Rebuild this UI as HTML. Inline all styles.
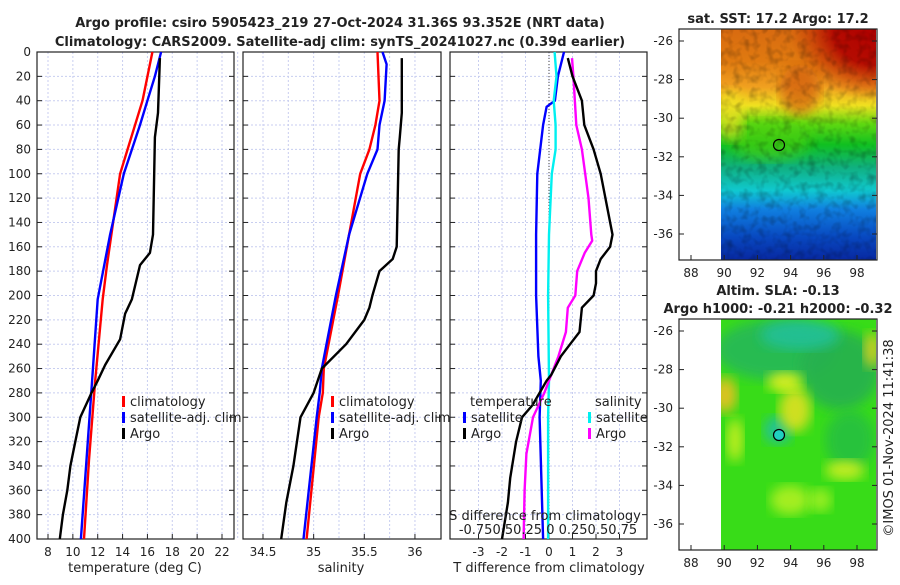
<!DOCTYPE html>
<html><head><meta charset="utf-8"><style>
body{margin:0;background:#fff;width:900px;height:580px;overflow:hidden}
svg{font-family:"DejaVu Sans","Liberation Sans",sans-serif}
</style></head><body>
<svg id="c" width="900" height="580" viewBox="0 0 900 580" xmlns="http://www.w3.org/2000/svg">
<defs>
<linearGradient id="sstg" x1="0" y1="0" x2="0" y2="1">
<stop offset="0" stop-color="#d86a10"/><stop offset="0.14" stop-color="#e07a10"/>
<stop offset="0.25" stop-color="#f0a020"/><stop offset="0.33" stop-color="#f0e020"/>
<stop offset="0.41" stop-color="#60d810"/><stop offset="0.5" stop-color="#10c020"/>
<stop offset="0.6" stop-color="#10b080"/><stop offset="0.7" stop-color="#10c8d0"/>
<stop offset="0.78" stop-color="#1080e0"/><stop offset="0.9" stop-color="#0848c0"/>
<stop offset="1" stop-color="#0828a0"/></linearGradient>
<radialGradient id="redc" cx="1" cy="0" r="0.9"><stop offset="0" stop-color="#b00000"/><stop offset="0.5" stop-color="#b00000" stop-opacity="0.9"/><stop offset="1" stop-color="#c03000" stop-opacity="0"/></radialGradient>
<filter id="bl"><feGaussianBlur stdDeviation="6"/></filter>
<filter id="tex" x="0" y="0" width="1" height="1"><feTurbulence type="fractalNoise" baseFrequency="0.12" numOctaves="2" seed="3"/><feColorMatrix type="matrix" values="0 0 0 0 0  0 0 0 0 0  0 0 0 0 0  0 0 0 -1.6 0.9"/></filter>
<clipPath id="cp1"><rect x="721" y="29" width="155" height="231"/></clipPath>
<clipPath id="cp2"><rect x="721" y="319" width="155" height="231"/></clipPath>
</defs>
<g id="g"></g>
</svg>
<script>
// ---- data (depth in m) ----
const tClimD=[0,40,100,175,203,270,335,400];
const tClimV=[16.4,15.6,13.8,12.75,12.4,11.8,11.3,10.9];
const tSatD=[0,20,40,60,100,150,203,270,335,400];
const tSatV=[17.1,16.6,16.0,15.4,14.1,13.0,12.0,11.55,11.1,10.65];
const tArgoD=[5,50,70,150,165,175,203,215,236,257,270,280,300,320,340,360,380,400];
const tArgoV=[17.0,16.85,16.6,16.45,16.2,15.4,14.75,14.2,13.8,12.6,12.0,11.5,10.6,10.2,9.8,9.55,9.2,8.95];
const sClimD=[0,40,60,80,100,150,200,260,280,300,400];
const sClimV=[35.63,35.65,35.61,35.55,35.46,35.35,35.24,35.1,35.09,35.05,34.93];
const sSatD=[0,10,40,60,80,100,150,200,260,280,300,400];
const sSatV=[35.68,35.72,35.7,35.65,35.63,35.53,35.35,35.22,35.08,35.06,35.03,34.9];
const sArgoD=[5,50,70,80,160,170,180,200,210,220,240,260,280,300,340,370,400];
const sArgoV=[35.87,35.87,35.85,35.84,35.82,35.78,35.65,35.58,35.55,35.5,35.32,35.08,35.0,34.87,34.8,34.73,34.68];
const dTSatD=[0,20,40,45,60,100,150,200,250,270,300,400];
const dTSatV=[0.64,0.38,0.25,-0.1,-0.25,-0.5,-0.55,-0.55,-0.45,-0.35,-0.4,-0.25];
const dSSatD=[0,20,40,60,80,100,150,200,270,300,400];
const dSSatV=[0.06,0.08,0.05,0.07,0.07,0.03,0.0,-0.01,0.0,-0.01,-0.01];
const dSArgoD=[5,20,60,80,120,150,155,165,180,200,210,230,250,270,280,300,330,360,400];
const dSArgoV=[0.245,0.26,0.29,0.35,0.42,0.45,0.46,0.38,0.3,0.28,0.2,0.18,0.1,0.0,-0.05,-0.17,-0.24,-0.26,-0.27];
const dTArgoD=[5,20,40,60,80,100,150,160,170,180,190,200,210,230,240,250,265,270,280,290,300,320,350,370,400];
const dTArgoV=[0.8,1.0,1.4,1.5,1.9,2.2,2.7,2.6,2.2,2.0,2.0,1.9,1.4,1.3,0.9,0.5,0.1,-0.1,-0.4,-0.7,-1.15,-1.4,-1.65,-1.75,-2.0];
const depthTicks=[0,20,40,60,80,100,120,140,160,180,200,220,240,260,280,300,320,340,360,380,400];
const tTicks=[8,10,12,14,16,18,20,22];
const sTicks=[34.5,35,35.5,36];
const dTicks=[-3,-2,-1,0,1,2,3];

const NS='http://www.w3.org/2000/svg';
const G=document.getElementById('g');
function el(tag,attrs,parent){const e=document.createElementNS(NS,tag);for(const k in attrs)e.setAttribute(k,attrs[k]);(parent||G).appendChild(e);return e;}
function txt(x,y,s,size,anchor,weight,parent){const t=el('text',{x:x,y:y,'font-size':size,'text-anchor':anchor||'middle','font-weight':weight||'normal',fill:'#222'},parent);t.textContent=s;return t;}
const Y0=52,Y1=539;
const yS=d=>Y0+(Y1-Y0)*d/400;
const xT=v=>48+(v-8)*(174/14);
const xS=v=>263+(v-34.5)*101.3;
const xD=v=>549+v*23.5;
const xDS=v=>549+v*4*23.5;

function panel(x0,x1,name,gridX){
  const g=el('g',{});
  
  
  gridX.forEach(x=>el('line',{x1:x,x2:x,y1:Y0,y2:Y1,stroke:'#c8cef0','stroke-width':1,'stroke-dasharray':'2,2'},g));
  depthTicks.forEach(d=>{el('line',{x1:x0,x2:x1,y1:yS(d),y2:yS(d),stroke:'#c8cef0','stroke-width':1,'stroke-dasharray':'2,2'},g);
    el('line',{x1:x0,x2:x0+5,y1:yS(d),y2:yS(d),stroke:'#222'},g);el('line',{x1:x1-5,x2:x1,y1:yS(d),y2:yS(d),stroke:'#222'},g);});
  el('rect',{x:x0,y:Y0,width:x1-x0,height:Y1-Y0,fill:'none',stroke:'#222','stroke-width':1.2},g);
  return g;
}
function line(D,V,xf,color,name){
  const p=el('polyline',{points:D.map((d,i)=>xf(V[i]).toFixed(1)+','+yS(d).toFixed(1)).join(' '),fill:'none',stroke:color,'stroke-width':2.4,'stroke-linejoin':'round'});
  
  
}
// panel 1
const tg=[];for(let v=8;v<=22;v+=2)tg.push(xT(v));
panel(37,234,'temperature-panel',tg);
depthTicks.forEach(d=>txt(31,yS(d)+4,String(d),12,'end'));
tTicks.forEach(v=>{el('line',{x1:xT(v),x2:xT(v),y1:Y1-5,y2:Y1,stroke:'#222'});txt(xT(v),556,String(v),12);});
txt(135,572,'temperature (deg C)',13);
line(tClimD,tClimV,xT,'#ff0000','temp-climatology-line');
line(tSatD,tSatV,xT,'#0000ff','temp-satellite-line');
line(tArgoD,tArgoV,xT,'#000','temp-argo-line');
// panel 2
const sg=[];for(let v=34.25;v<=36.2;v+=0.25)sg.push(xS(v));
panel(243,441,'salinity-panel',sg);
sTicks.forEach(v=>{el('line',{x1:xS(v),x2:xS(v),y1:Y1-5,y2:Y1,stroke:'#222'});txt(xS(v),556,String(v),12);});
txt(341,572,'salinity',13);
line(sClimD,sClimV,xS,'#ff0000','sal-climatology-line');
line(sSatD,sSatV,xS,'#0000ff','sal-satellite-line');
line(sArgoD,sArgoV,xS,'#000','sal-argo-line');
// panel 3
const dg=[];for(let v=-3;v<=3;v++)dg.push(xD(v));
panel(450,647,'difference-panel',dg);
el('line',{x1:xD(0),x2:xD(0),y1:Y0,y2:Y1,stroke:'#444','stroke-dasharray':'1,2'});
dTicks.forEach(v=>{el('line',{x1:xD(v),x2:xD(v),y1:Y1-5,y2:Y1,stroke:'#222'});txt(xD(v),556,String(v),12);});
txt(549,572,'T difference from climatology',13);
line(dTSatD,dTSatV,xD,'#0000ff','tdiff-satellite-line');
line(dSSatD,dSSatV,xDS,'#00f0f0','sdiff-satellite-line');
line(dSArgoD,dSArgoV,xDS,'#ff00ff','sdiff-argo-line');
line(dTArgoD,dTArgoV,xD,'#000','tdiff-argo-line');
txt(545,520,'S difference from climatology',13);
txt(548,534,'-0.750.50.25 0  0.250.50.75',13);
// legends
function leg(x,y,c,s,name){const g=el('g',{});
 el('rect',{x:x,y:y-10,width:3,height:11,fill:c},g);txt(x+8,y,s,13,'start','normal',g);}
leg(122,406,'#ff0000','climatology','legend-climatology');
leg(122,422,'#0000ff','satellite-adj. clim','legend-satellite-adj');
leg(122,438,'#000','Argo','legend-argo');
leg(331,406,'#ff0000','climatology','legend2-climatology');
leg(331,422,'#0000ff','satellite-adj. clim','legend2-satellite-adj');
leg(331,438,'#000','Argo','legend2-argo');
txt(470,406,'temperature',13,'start');txt(595,406,'salinity',13,'start');
leg(463,422,'#0000ff','satellite','legend3-t-satellite');
leg(463,438,'#000','Argo','legend3-t-argo');
leg(588,422,'#00f0f0','satellite','legend3-s-satellite');
leg(588,438,'#ff00ff','Argo','legend3-s-argo');
// titles
txt(340,27,'Argo profile: csiro 5905423_219 27-Oct-2024 31.36S 93.352E (NRT data)',13,'middle','bold');
txt(340,46,'Climatology: CARS2009. Satellite-adj clim: synTS_20241027.nc (0.39d earlier)',13,'middle','bold');
// maps
const lonTicks=[88,90,92,94,96,98];const latTicks=[-26,-28,-30,-32,-34,-36];
const xL=v=>691+(v-88)*16.6;
function mapAxes(y0,name){const g=el('g',{});
 el('rect',{x:679,y:y0,width:198,height:231,fill:'none',stroke:'#222','stroke-width':1.2},g);
 lonTicks.forEach(v=>{el('line',{x1:xL(v),x2:xL(v),y1:y0+226,y2:y0+231,stroke:'#222'},g);txt(xL(v),y0+248,String(v),12,'middle','normal',g);});
 latTicks.forEach(v=>{const y=y0+12+(-26-v)*19.3;el('line',{x1:679,x2:684,y1:y,y2:y,stroke:'#222'},g);el('line',{x1:872,x2:877,y1:y,y2:y,stroke:'#222'},g);txt(673,y+4,String(v),12,'end','normal',g);});
}
// top map
const m1=el('g',{'clip-path':'url(#cp1)'});
el('rect',{x:721,y:29,width:155,height:231,fill:'url(#sstg)'},m1);
el('rect',{x:780,y:29,width:96,height:80,fill:'url(#redc)'},m1);
el('ellipse',{cx:800,cy:90,rx:20,ry:25,fill:'#d05a10',opacity:0.7,filter:'url(#bl)'},m1);
el('ellipse',{cx:770,cy:140,rx:40,ry:20,fill:'#50d010',opacity:0.6,filter:'url(#bl)'},m1);
el('ellipse',{cx:730,cy:115,rx:14,ry:25,fill:'#f0e020',opacity:0.7,filter:'url(#bl)'},m1);
el('rect',{x:721,y:29,width:155,height:231,filter:'url(#tex)',opacity:0.35},m1);
mapAxes(29,'sst-map-axes');
el('circle',{cx:779,cy:145,r:5.5,fill:'none',stroke:'#000','stroke-width':1.2});
txt(778,23,'sat. SST: 17.2 Argo: 17.2',13,'middle','bold');
// bottom map
const m2=el('g',{'clip-path':'url(#cp2)'});
el('rect',{x:721,y:319,width:155,height:231,fill:'#38dc18'},m2);
[[775,350,60,30,'#28b858'],[840,370,40,40,'#28b050'],[800,335,40,15,'#20c098'],[778,430,14,14,'#20c0a0'],[850,440,25,30,'#28c040'],
 [725,395,12,18,'#f0c020'],[795,410,16,22,'#e0e020'],[785,382,18,10,'#e8f020'],[845,470,20,10,'#d0f020'],[872,350,8,18,'#e0d020'],
 [790,500,20,15,'#b0f020'],[735,440,8,22,'#d0f020'],[820,500,12,12,'#a0f020']].forEach(b=>el('ellipse',{cx:b[0],cy:b[1],rx:b[2],ry:b[3],fill:b[4],opacity:0.9,filter:'url(#bl)'},m2));
mapAxes(319,'sla-map-axes');
el('circle',{cx:779,cy:435,r:5.5,fill:'#20d0c0',stroke:'#000','stroke-width':1.2});
txt(778,295,'Altim. SLA: -0.13',13,'middle','bold');
txt(778,313,'Argo h1000: -0.21 h2000: -0.32',13,'middle','bold');
const r=txt(0,0,'©IMOS 01-Nov-2024 11:41:38',13,'middle');
r.setAttribute('transform','translate(893,438) rotate(-90)');
</script>
</body></html>
